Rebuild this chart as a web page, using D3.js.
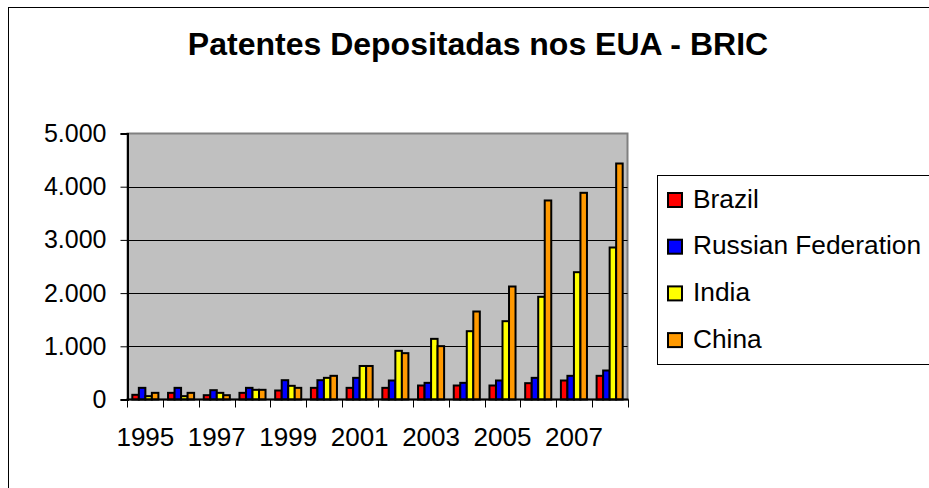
<!DOCTYPE html>
<html><head><meta charset="utf-8">
<script src="https://cdn.jsdelivr.net/npm/d3@7"></script>
<style>html,body{margin:0;padding:0;background:#fff;}svg{display:block;font-family:"Liberation Sans",Arial,sans-serif;}</style>
</head><body>
<script>
const years = [1995,1996,1997,1998,1999,2000,2001,2002,2003,2004,2005,2006,2007,2008];
const seriesNames = ["Brazil","Russian Federation","India","China"];
const brazil = [88,125,81,125,169,219,219,219,263,263,263,307,357,445];
const russia = [219,219,175,219,363,363,407,357,313,313,357,407,445,545];
const india  = [63,63,125,182,257,407,630,915,1140,1284,1472,1930,2393,2857];
const china  = [125,125,81,182,219,445,630,871,1003,1654,2124,3741,3885,4436];
const colors = ["#FF0000","#0000FF","#FFFF00","#FF9900"];
const yTicks = [0,1000,2000,3000,4000,5000];
const xLabels = [1995,1997,1999,2001,2003,2005,2007];
const seriesValues = [brazil, russia, india, china];

const W = 929, H = 488;
const FONT = "'Liberation Sans', Arial, sans-serif";
const svg = d3.select("body").append("svg").attr("width", W).attr("height", H);

// outer chart frame
svg.append("rect").attr("x", 8.5).attr("y", 7.5).attr("width", 1000).attr("height", 600)
  .attr("fill", "#fff").attr("stroke", "#000").attr("stroke-width", 1);

const plot = {left: 127.5, right: 627.5, top: 133.5, bottom: 399.5};

const x = d3.scaleBand().domain(years).range([plot.left, plot.right])
  .paddingInner(0.27).paddingOuter(0.135);
const xs = d3.scaleBand().domain(d3.range(4)).range([0, x.bandwidth()]).padding(0);
const y = d3.scaleLinear().domain([0, 5000]).range([plot.bottom, plot.top]);

// plot area
svg.append("rect").attr("x", plot.left).attr("y", plot.top)
  .attr("width", plot.right - plot.left).attr("height", plot.bottom - plot.top)
  .attr("fill", "#C0C0C0").attr("stroke", "#808080").attr("stroke-width", 2);

// gridlines
svg.append("g").selectAll("line").data(yTicks.filter(d => d > 0 && d < 5000)).join("line")
  .attr("x1", plot.left).attr("x2", plot.right)
  .attr("y1", d => Math.round(y(d)) + 0.5).attr("y2", d => Math.round(y(d)) + 0.5)
  .attr("stroke", "#000").attr("stroke-width", 1);

// bars
const data = [];
years.forEach((yr, i) => seriesValues.forEach((arr, s) => data.push({yr, s, v: arr[i]})));
svg.append("g").selectAll("rect").data(data).join("rect")
  .attr("x", d => x(d.yr) + xs(d.s))
  .attr("y", d => y(d.v))
  .attr("width", xs.bandwidth())
  .attr("height", d => plot.bottom - y(d.v))
  .attr("fill", d => colors[d.s])
  .attr("stroke", "#000").attr("stroke-width", 2);

// y axis
const loc = d3.formatLocale({decimal: ",", thousands: ".", grouping: [3], currency: ["", ""]});
const fmt = loc.format(",");
const yAxis = svg.append("g").attr("transform", `translate(${plot.left},0)`)
  .call(d3.axisLeft(y).tickValues(yTicks).tickFormat(fmt).tickSize(7).tickPadding(14));
yAxis.select(".domain").attr("stroke", "#000").attr("stroke-width", 2);
yAxis.selectAll(".tick line").attr("stroke", "#000").attr("stroke-width", 1);
yAxis.selectAll(".tick text").attr("font-size", 25).attr("fill", "#000").attr("font-family", FONT);

// x axis
const xAxis = svg.append("g").attr("transform", `translate(0,${plot.bottom})`)
  .call(d3.axisBottom(x).tickValues(xLabels).tickSize(0).tickPadding(28));
xAxis.select(".domain").remove();
xAxis.selectAll(".tick text").attr("font-size", 26).attr("fill", "#000").attr("font-family", FONT);
svg.append("line").attr("x1", plot.left - 1).attr("x2", plot.right + 1)
  .attr("y1", plot.bottom).attr("y2", plot.bottom).attr("stroke", "#000").attr("stroke-width", 2);
// category boundary ticks
const bounds = years.map(yr => x(yr) - x.step() * x.paddingInner() / 2).concat([plot.right]);
svg.append("g").selectAll("line").data(bounds).join("line")
  .attr("x1", d => Math.round(d) + 0.5).attr("x2", d => Math.round(d) + 0.5)
  .attr("y1", plot.bottom).attr("y2", plot.bottom + 8)
  .attr("stroke", "#000").attr("stroke-width", 1);

// title
svg.append("text").attr("x", 478).attr("y", 55).attr("text-anchor", "middle")
  .attr("font-size", 32).attr("font-weight", "bold").attr("fill", "#000").attr("font-family", FONT)
  .text("Patentes Depositadas nos EUA - BRIC");

// legend
const lg = svg.append("g");
lg.append("rect").attr("x", 657.5).attr("y", 175.5).attr("width", 400).attr("height", 189)
  .attr("fill", "#fff").attr("stroke", "#000").attr("stroke-width", 1);
const items = lg.selectAll("g.item").data(seriesNames).join("g")
  .attr("transform", (d, i) => `translate(0,${200 + i * 46.7})`);
items.append("rect").attr("x", 668).attr("y", -7).attr("width", 14).attr("height", 14)
  .attr("fill", (d, i) => colors[i]).attr("stroke", "#000").attr("stroke-width", 2);
items.append("text").attr("x", 693).attr("y", 7.5).attr("font-size", 26.3).attr("fill", "#000")
  .attr("font-family", FONT).text(d => d);
</script>
</body></html>
